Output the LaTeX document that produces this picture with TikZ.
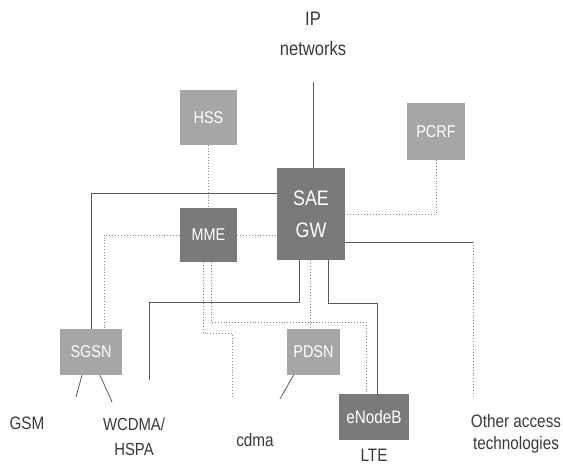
\documentclass[tikz,border=0pt]{standalone}
\usepackage{fontspec}
\setmainfont{Liberation Sans}[FakeStretch=0.85]
\usetikzlibrary{calc}
\definecolor{lightbox}{HTML}{A6A6A6}
\definecolor{darkbox}{HTML}{7A7A7A}
\definecolor{lineg}{HTML}{5A5A5A}
\definecolor{dotg}{HTML}{8A8A8A}
\definecolor{labelg}{HTML}{3A3A3A}
\tikzset{
  boxlight/.style={rectangle, fill=lightbox, inner sep=0pt, text=white, font=\fontsize{17}{20}\selectfont},
  boxdark/.style={rectangle, fill=darkbox, inner sep=0pt, text=white, font=\fontsize{17}{20}\selectfont},
  lbl/.style={text=labelg, inner sep=0pt, align=center, font=\fontsize{18}{22}\selectfont},
  solidcon/.style={draw=lineg, line width=0.9pt},
  dotcon/.style={draw=dotg, line width=0.9pt, dotted},
}
\begin{document}
\begin{tikzpicture}[x=1pt,y=-1pt]
\useasboundingbox[fill=white] (0,0) rectangle (563,474);
% boxes
\node[boxlight, minimum width=57pt, minimum height=55pt] (hss) at (208.5,117.5) {HSS};
\node[boxdark, minimum width=57pt, minimum height=54pt] (mme) at (208.5,235) {MME};
\node[boxdark, minimum width=68pt, minimum height=92pt, align=center, font=\fontsize{21}{32}\selectfont] (gw) at (311,214) {SAE\\GW};
\node[boxlight, minimum width=58pt, minimum height=57pt] (pcrf) at (436,131.5) {PCRF};
\node[boxlight, minimum width=62pt, minimum height=46pt] (sgsn) at (91,352) {SGSN};
\node[boxlight, minimum width=53pt, minimum height=46pt] (pdsn) at (313.5,352) {PDSN};
\node[boxdark, minimum width=70pt, minimum height=46pt, font=\fontsize{18}{20}\selectfont] (enb) at (374,417) {eNodeB};
% labels
\node[lbl, font=\fontsize{19.5}{30}\selectfont] (ip) at (313,34) {IP\\networks};
\node[lbl] (gsm) at (27,423) {GSM};
\node[lbl, font=\fontsize{17.5}{25}\selectfont] (wcdma) at (134,437) {WCDMA/\\HSPA};
\node[lbl] (cdma) at (255,440) {cdma};
\node[lbl] (lte) at (374,455) {LTE};
\node[lbl] (other) at (516,434) {Other access\\technologies};
% free ends
\coordinate (ipend) at (313,82);
\coordinate (oth) at (473,397);
\coordinate (wend) at (149,380);
\coordinate (cend) at (232,396);
\coordinate (gsmend) at (76,397);
\coordinate (hspaend) at (112,402);
\coordinate (cdmaend) at (280,399);
% connectors
\draw[solidcon] (ipend) -- (ipend |- gw.north);
\draw[dotcon] (hss.south) -- (mme.north);
\draw[solidcon] ([yshift=21pt]gw.west) -| (sgsn.north);
\draw[dotcon] (mme.west) -| ([xshift=13pt]sgsn.north);
\draw[dotcon] (mme.east) -- (mme.east -| gw.west);
\draw[dotcon] (pcrf.south) |- (gw.east);
\draw[solidcon] ([yshift=-28pt]gw.east) -- ([yshift=-28pt]gw.east -| oth);
\draw[dotcon] ([yshift=-28pt]gw.east -| oth) -- (oth);
\draw[solidcon] ([xshift=-12pt]gw.south) -- ++(0,42) -| (wend);
\draw[dotcon] ([xshift=-1pt]gw.south) -- ([xshift=-1pt]gw.south |- pdsn.north);
\draw[solidcon] ([xshift=17pt]gw.south) -- ++(0,43) -| ([xshift=3pt]enb.north);
\draw[dotcon] ([xshift=2.5pt]mme.south) -- ++(0,60) -| ([xshift=-8pt]enb.north);
\draw[dotcon] ([xshift=-5.5pt]mme.south) -- ++(0,71) -| (cend);
\draw[lineg, line width=0.8pt] ([xshift=-9pt]sgsn.south) -- (gsmend);
\draw[lineg, line width=0.8pt] ([xshift=9pt]sgsn.south) -- (hspaend);
\draw[lineg, line width=0.8pt] ([xshift=-20pt]pdsn.south) -- (cdmaend);
\end{tikzpicture}
\end{document}
